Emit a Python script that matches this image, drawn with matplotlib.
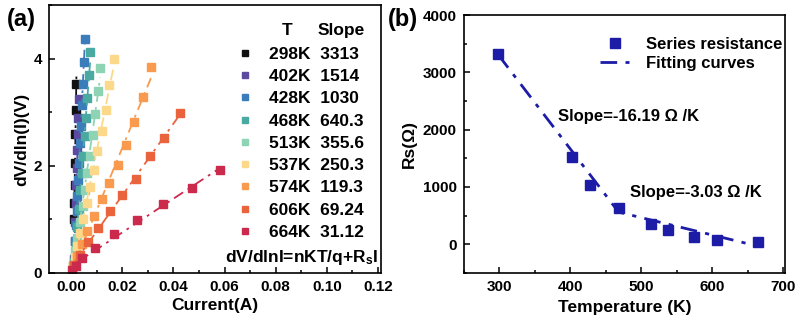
import matplotlib.pyplot as plt
import numpy as np
from matplotlib.ticker import MultipleLocator

plt.rcParams['font.family'] = ['Liberation Sans', 'DejaVu Sans']
plt.rcParams['font.weight'] = 'bold'
plt.rcParams['mathtext.fontset'] = 'custom'
plt.rcParams['mathtext.rm'] = 'Liberation Sans:bold'
plt.rcParams['mathtext.it'] = 'Liberation Sans:bold'
plt.rcParams['mathtext.bf'] = 'Liberation Sans:bold'

# panel (a) data: current (A) vs dV/dln(I) (V)
temps = ["298K", "402K", "428K", "468K", "513K", "537K", "574K", "606K", "664K"]
slopes = ["3313", "1514", "1030", "640.3", "355.6", "250.3", "119.3", "69.24", "31.12"]
colors = ["#111111", "#5b4a9f", "#3b7dbb", "#4aa9a1", "#8ed3b3",
          "#fcd98a", "#f99a4e", "#e9643d", "#cc2a4d"]

I_298 = [0.0012, 0.0013, 0.0014, 0.0016, 0.0017, 0.0018, 0.0021]
V_298 = [1.00, 1.30, 1.65, 2.06, 2.59, 3.05, 3.52]
I_402 = [0.0012, 0.0014, 0.0016, 0.0019, 0.0021, 0.0023, 0.0025, 0.0027, 0.0029, 0.0032]
V_402 = [0.25, 0.60, 0.95, 1.30, 1.65, 1.95, 2.30, 2.60, 2.90, 3.25]
I_428 = [0.0014, 0.0017, 0.0020, 0.0022, 0.0025, 0.0028, 0.0031, 0.0035, 0.0038, 0.0042, 0.0046, 0.0050, 0.0055]
V_428 = [0.30, 0.60, 0.90, 1.15, 1.43, 1.74, 2.06, 2.43, 2.74, 3.13, 3.52, 3.93, 4.37]
I_468 = [0.0012, 0.0018, 0.0024, 0.0030, 0.0036, 0.0042, 0.0048, 0.0054, 0.0059, 0.0064, 0.0069, 0.0075]
V_468 = [0.20, 0.50, 0.85, 1.20, 1.55, 1.87, 2.18, 2.55, 2.90, 3.27, 3.69, 4.12]
I_513 = [0.0008, 0.0016, 0.0024, 0.0036, 0.0046, 0.0055, 0.0064, 0.0075, 0.0084, 0.0094, 0.0104, 0.0114]
V_513 = [0.15, 0.40, 0.65, 0.95, 1.25, 1.54, 1.86, 2.19, 2.57, 2.96, 3.40, 3.83]
I_537 = [0.0006, 0.0015, 0.0025, 0.0035, 0.0048, 0.0061, 0.0075, 0.0090, 0.0103, 0.0120, 0.0135, 0.0148, 0.0166]
V_537 = [0.10, 0.30, 0.50, 0.75, 1.00, 1.30, 1.61, 1.93, 2.27, 2.65, 3.05, 3.50, 3.99]
I_574 = [0.0008, 0.0022, 0.0042, 0.0064, 0.0090, 0.0120, 0.0150, 0.0182, 0.0214, 0.0247, 0.0281, 0.0312]
V_574 = [0.12, 0.31, 0.53, 0.79, 1.07, 1.37, 1.67, 2.01, 2.39, 2.82, 3.28, 3.84]
I_606 = [0.0010, 0.0035, 0.0068, 0.0107, 0.0153, 0.0201, 0.0255, 0.0307, 0.0362, 0.0427]
V_606 = [0.15, 0.34, 0.57, 0.84, 1.15, 1.45, 1.76, 2.18, 2.52, 2.98]
I_664 = [0.0005, 0.0020, 0.0042, 0.0092, 0.0166, 0.0258, 0.0359, 0.0473, 0.0584]
V_664 = [0.05, 0.12, 0.28, 0.47, 0.72, 0.98, 1.28, 1.59, 1.92]

currents = [I_298, I_402, I_428, I_468, I_513, I_537, I_574, I_606, I_664]
voltages = [V_298, V_402, V_428, V_468, V_513, V_537, V_574, V_606, V_664]

# panel (b) data
T_K = [298, 402, 428, 468, 513, 537, 574, 606, 664]
Rs = [3313, 1514, 1030, 640.3, 355.6, 250.3, 119.3, 69.24, 31.12]
fit_slope1 = -16.19
fit_slope2 = -3.03
T_fit1 = [298, 468]
T_fit2 = [468, 664]

blue = "#1c1ca6"

fig = plt.figure(figsize=(8.04, 3.21), dpi=100)
ax1 = fig.add_axes([0.061, 0.150, 0.413, 0.834])
ax2 = fig.add_axes([0.577, 0.150, 0.399, 0.803])

# ---- panel (a)
handles = []
for I, V, c, t, s in zip(currents, voltages, colors, temps, slopes):
    I = np.array(I)
    V = np.array(V)
    p = np.polyfit(I, V, 1)
    xx = np.array([I.min(), I.max()])
    ax1.plot(xx, np.polyval(p, xx), color=c, lw=1.3, dashes=(6, 3, 1.5, 3))
    h, = ax1.plot(I, V, 's', color=c, ms=5.5, label=t + "  " + s)
    handles.append(h)

ax1.set_xlim(-0.0086, 0.1212)
ax1.set_ylim(0, 5)
ax1.xaxis.set_major_locator(MultipleLocator(0.02))
ax1.xaxis.set_minor_locator(MultipleLocator(0.01))
ax1.yaxis.set_major_locator(MultipleLocator(2))
ax1.yaxis.set_minor_locator(MultipleLocator(1))
ax1.set_xticks(np.arange(0, 0.121, 0.02))
ax1.set_xticklabels(["0.00", "0.02", "0.04", "0.06", "0.08", "0.10", "0.12"])
ax1.set_xlabel("Current(A)", fontsize=12.5, fontweight='bold')
ax1.set_ylabel("dV/dln(I)(V)", fontsize=12.5, fontweight='bold')
ax1.xaxis.set_label_coords(0.5, -0.093)
ax1.yaxis.set_label_coords(-0.06, 0.5)

leg = ax1.legend(handles=handles, loc='upper left', bbox_to_anchor=(0.569, 0.845),
                 frameon=False, fontsize=12.5, markerscale=0.8, handlelength=0.8,
                 handletextpad=1.0, labelspacing=0.41, borderpad=0, borderaxespad=0)
for txt in leg.get_texts():
    txt.set_fontweight('bold')
ax1.text(0.717, 0.907, "T", transform=ax1.transAxes, fontsize=12.5,
         fontweight='bold', ha='center', va='center')
ax1.text(0.81, 0.907, "Slope", transform=ax1.transAxes, fontsize=12.5,
         fontweight='bold', ha='left', va='center')
ax1.text(0.99, 0.058, "dV/dlnI=nKT/q+R$_s$I", transform=ax1.transAxes,
         fontsize=12.5, fontweight='bold', ha='right', va='center')

# ---- panel (b)
ax2.plot(T_K, Rs, 's', color=blue, ms=7.5, label="Series resistance", zorder=3)
T_fit1 = np.array(T_fit1, dtype=float)
y1 = Rs[0] + fit_slope1 * (T_fit1 - T_K[0])
T_fit2 = np.array(T_fit2, dtype=float)
y2 = y1[-1] + fit_slope2 * (T_fit2 - T_fit2[0])
ax2.plot(np.concatenate([T_fit1, T_fit2[1:]]), np.concatenate([y1, y2[1:]]),
         color=blue, lw=2, dashes=(6, 3, 1.5, 3), label="Fitting curves")

ax2.set_xlim(250, 702)
ax2.set_ylim(-500, 4000)
ax2.xaxis.set_major_locator(MultipleLocator(100))
ax2.xaxis.set_minor_locator(MultipleLocator(50))
ax2.yaxis.set_major_locator(MultipleLocator(1000))
ax2.yaxis.set_minor_locator(MultipleLocator(500))
ax2.set_xticks([300, 400, 500, 600, 700])
ax2.set_yticks([0, 1000, 2000, 3000, 4000])
ax2.set_xlabel("Temperature (K)", fontsize=12.5, fontweight='bold')
ax2.set_ylabel("Rs(Ω)", fontsize=12.5, fontweight='bold')
ax2.xaxis.set_label_coords(0.5, -0.105)
ax2.yaxis.set_label_coords(-0.146, 0.5)

leg2 = ax2.legend(loc='upper left', bbox_to_anchor=(0.424, 0.915), frameon=False,
                  fontsize=12, handlelength=1.75, handletextpad=1.0,
                  labelspacing=0.25, borderpad=0, borderaxespad=0)
for txt in leg2.get_texts():
    txt.set_fontweight('bold')

ax2.text(383, 2236, "Slope=-16.19 Ω /K", fontsize=12, fontweight='bold', va='center')
ax2.text(484, 908, "Slope=-3.03 Ω /K", fontsize=12, fontweight='bold', va='center')

for ax in (ax1, ax2):
    ax.tick_params(which='both', direction='in', labelsize=11, width=1.1, pad=5)
    ax.tick_params(which='major', length=4)
    ax.tick_params(which='minor', length=2.5)
    for sp in ax.spines.values():
        sp.set_linewidth(1.2)
    for lbl in ax.get_xticklabels() + ax.get_yticklabels():
        lbl.set_fontweight('bold')

fig.text(0.008, 0.94, "(a)", fontsize=17, fontweight='bold', va='center')
fig.text(0.482, 0.94, "(b)", fontsize=17, fontweight='bold', va='center')

fig.savefig("out.png", dpi=100)
